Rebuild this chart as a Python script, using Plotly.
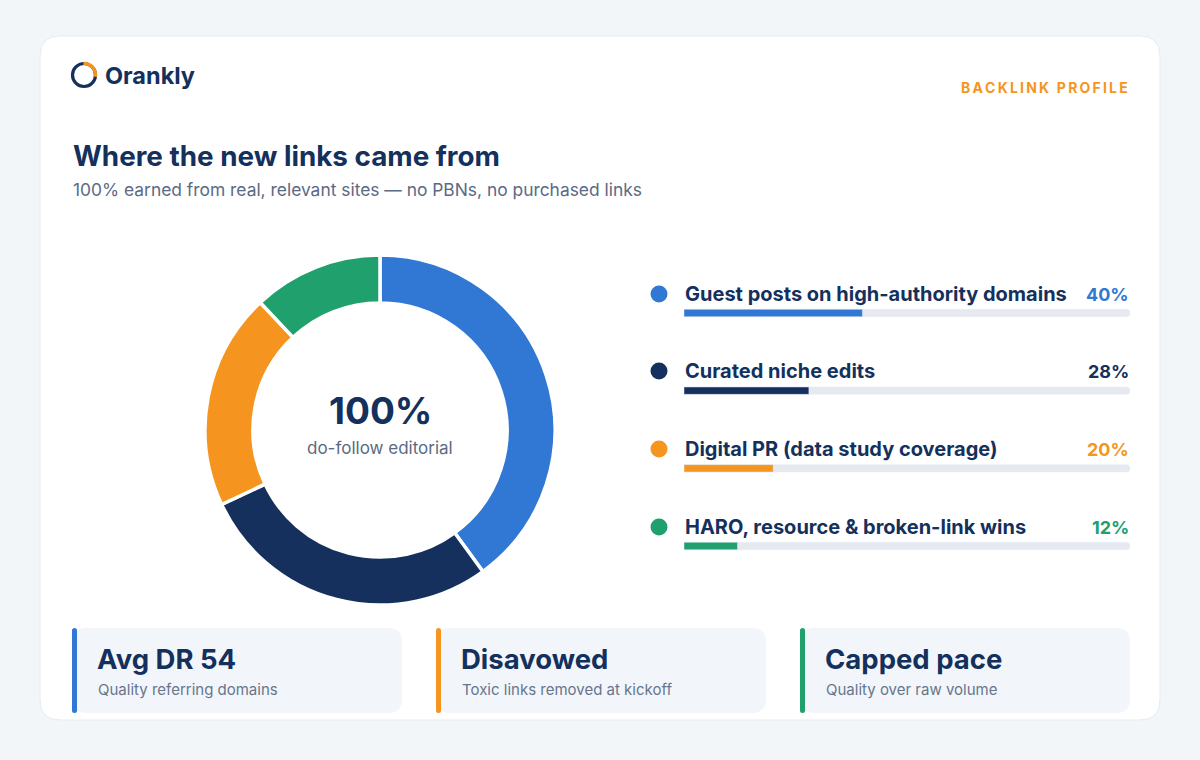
import plotly.graph_objects as go
import numpy as np

# ---- data ----
categories = ["Guest posts on high-authority domains", "Curated niche edits",
              "Digital PR (data study coverage)", "HARO, resource & broken-link wins"]
shares = [40, 28, 20, 12]
colors = ["#3078d3", "#15305c", "#f5951f", "#20a06c"]
pct_colors = ["#3078d3", "#15305c", "#f5951f", "#20a06c"]

card_titles = ["Avg DR 54", "Disavowed", "Capped pace"]
card_subs = ["Quality referring domains", "Toxic links removed at kickoff", "Quality over raw volume"]
card_colors = ["#3078d3", "#f5951f", "#20a06c"]

NAVY = "#14305c"
GREY = "#5b6a84"
FONT = "Inter"
W, H = 1200, 760

def py(p):  # pixel y (top) -> paper y
    return 1 - p / H

def px(p):
    return p / W

def rrect(x0, y0, x1, y1, r):
    return (f"M{x0+r},{y0} L{x1-r},{y0} Q{x1},{y0} {x1},{y0+r} L{x1},{y1-r} Q{x1},{y1} {x1-r},{y1} "
            f"L{x0+r},{y1} Q{x0},{y1} {x0},{y1-r} L{x0},{y0+r} Q{x0},{y0} {x0+r},{y0} Z")

fig = go.Figure()

shapes = []
annotations = []

# card background
shapes.append(dict(type="path", xref="x", yref="y", path=rrect(40, 36, 1160, 720, 20),
                   fillcolor="#ffffff", line=dict(color="#e6ebf2", width=1), layer="below"))

# logo ring
cx, cy, r = 84, 75, 11.5
shapes.append(dict(type="circle", xref="x", yref="y", x0=cx - r, x1=cx + r, y0=cy - r, y1=cy + r,
                   line=dict(color=NAVY, width=3.2), fillcolor="rgba(0,0,0,0)"))
ang = np.linspace(np.pi / 2 + 0.05, -0.15, 30)
arc = "M" + " L".join(f"{cx + r*np.cos(a):.2f},{cy - r*np.sin(a):.2f}" for a in ang)
shapes.append(dict(type="path", xref="x", yref="y", path=arc, line=dict(color="#f5951f", width=3.4)))
annotations.append(dict(x=103, y=75, xref="x", yref="y", text="<b>Orankly</b>", showarrow=False,
                        xanchor="left", yanchor="middle", font=dict(family=FONT, size=23.5, color=NAVY)))

hair = "\u200a"
annotations.append(dict(x=1130, y=87, xref="x", yref="y",
                        text="<b>" + (hair * 2).join("BACKLINK PROFILE") + "</b>", showarrow=False,
                        xanchor="right", yanchor="middle", font=dict(family=FONT, size=14, color="#f5951f")))

annotations.append(dict(x=71, y=156, xref="x", yref="y", text="<b>Where the new links came from</b>",
                        showarrow=False, xanchor="left", yanchor="middle",
                        font=dict(family=FONT, size=27.8, color=NAVY)))
annotations.append(dict(x=71, y=189, xref="x", yref="y",
                        text="100% earned from real, relevant sites — no PBNs, no purchased links",
                        showarrow=False, xanchor="left", yanchor="middle",
                        font=dict(family=FONT, size=17.4, color=GREY)))

# donut
pcx, pcy, pr = 380, 430, 175
fig.add_trace(go.Pie(values=shares, labels=categories, hole=0.726, sort=False, direction="clockwise",
                     rotation=0, marker=dict(colors=colors, line=dict(color="#ffffff", width=3.5)),
                     textinfo="none", hoverinfo="label+percent", showlegend=False,
                     domain=dict(x=[px(pcx - pr), px(pcx + pr)], y=[py(pcy + pr), py(pcy - pr)])))
annotations.append(dict(x=pcx, y=410, xref="x", yref="y", text="<b>100%</b>", showarrow=False,
                        xanchor="center", yanchor="middle", font=dict(family=FONT, size=37, color=NAVY)))
annotations.append(dict(x=pcx, y=448, xref="x", yref="y", text="do-follow editorial", showarrow=False,
                        xanchor="center", yanchor="middle", font=dict(family=FONT, size=17, color=GREY)))

# legend rows with progress bars
row_label_y = [294, 371, 449, 527]
bar_y0, step = 313, 77.67
idx = list(range(len(categories)))
fig.add_trace(go.Bar(x=[100] * len(shares), y=idx, orientation="h", marker=dict(color="#e7e9f1"),
                     width=0.095, xaxis="x2", yaxis="y2", hoverinfo="skip", showlegend=False))
fig.add_trace(go.Bar(x=shares, y=idx, orientation="h", marker=dict(color=colors),
                     width=0.095, xaxis="x2", yaxis="y2", showlegend=False, hovertext=categories))
fig.add_trace(go.Scatter(x=[659] * len(shares), y=row_label_y, mode="markers",
                         marker=dict(size=17, color=colors), xaxis="x", yaxis="y",
                         hoverinfo="skip", showlegend=False))
for i, (c, s) in enumerate(zip(categories, shares)):
    annotations.append(dict(x=683, y=row_label_y[i], xref="x", yref="y", text=f"<b>{c}</b>",
                            showarrow=False, xanchor="left", yanchor="middle",
                            font=dict(family=FONT, size=20, color=NAVY)))
    annotations.append(dict(x=1131, y=row_label_y[i], xref="x", yref="y", text=f"<b>{s}%</b>",
                            showarrow=False, xanchor="right", yanchor="middle",
                            font=dict(family=FONT, size=18, color=pct_colors[i])))

# bottom cards
card_x = [72, 436, 800]
for i in range(3):
    x0 = card_x[i]
    shapes.append(dict(type="path", xref="x", yref="y", path=rrect(x0, 628, x0 + 330, 713, 14),
                       fillcolor="#f2f6fa", line=dict(width=0), layer="below"))
    shapes.append(dict(type="path", xref="x", yref="y", path=rrect(x0, 628, x0 + 5, 713, 2.5),
                       fillcolor=card_colors[i], line=dict(width=0)))
    annotations.append(dict(x=x0 + 23, y=659, xref="x", yref="y", text=f"<b>{card_titles[i]}</b>",
                            showarrow=False, xanchor="left", yanchor="middle",
                            font=dict(family=FONT, size=27.5, color=NAVY)))
    annotations.append(dict(x=x0 + 24, y=689, xref="x", yref="y", text=card_subs[i],
                            showarrow=False, xanchor="left", yanchor="middle",
                            font=dict(family=FONT, size=15, color="#66758e")))

fig.update_layout(
    width=W, height=H, margin=dict(l=0, r=0, t=0, b=0),
    paper_bgcolor="#f3f6f9", plot_bgcolor="rgba(0,0,0,0)",
    barmode="overlay", barcornerradius=4,
    xaxis=dict(range=[0, W], domain=[0, 1], visible=False, fixedrange=True),
    yaxis=dict(range=[H, 0], domain=[0, 1], visible=False, fixedrange=True),
    xaxis2=dict(range=[0, 100], domain=[px(684), px(1130)], visible=False, anchor="y2", fixedrange=True),
    yaxis2=dict(range=[3 + 0.5, -0.5], domain=[py(bar_y0 + 3.5 * step), py(bar_y0 - 0.5 * step)],
                visible=False, anchor="x2", fixedrange=True),
    shapes=shapes, annotations=annotations,
)

fig.write_html("out.html", config=dict(displayModeBar=False),
               post_script="document.body.style.margin='0';document.body.style.background='#f3f6f9';")
